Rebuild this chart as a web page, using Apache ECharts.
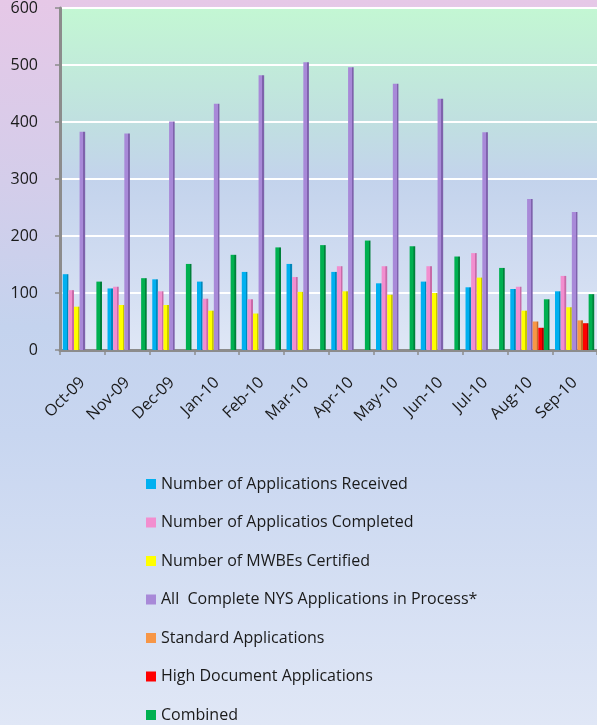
<!DOCTYPE html>
<html><head><meta charset="utf-8">
<script src="https://cdn.jsdelivr.net/npm/echarts@6/dist/echarts.min.js"></script>
<style>html,body{margin:0;padding:0;}#c{width:597px;height:725px;}</style>
</head><body><div id="c"></div>
<script>
var categories = ['Oct-09','Nov-09','Dec-09','Jan-10','Feb-10','Mar-10','Apr-10','May-10','Jun-10','Jul-10','Aug-10','Sep-10'];
var received   = [133, 108, 124, 120, 137, 151, 137, 117, 120, 110, 107, 103];
var completed  = [105, 111, 103, 90, 89, 128, 147, 147, 147, 170, 111, 130];
var certified  = [76, 79, 79, 69, 64, 102, 103, 97, 100, 127, 69, 75];
var inProcess  = [383, 380, 401, 432, 482, 505, 496, 467, 441, 382, 265, 242];
var standard   = [null, null, null, null, null, null, null, null, null, null, 50, 52];
var highDoc    = [null, null, null, null, null, null, null, null, null, null, 39, 47];
var combined   = [120, 126, 151, 167, 180, 184, 192, 182, 164, 144, 89, 98];
var yTicks = [0, 100, 200, 300, 400, 500, 600];

var names = ['Number of Applications Received','Number of Applicatios Completed','Number of MWBEs Certified','All  Complete NYS Applications in Process*','Standard Applications','High Document Applications','Combined'];
var colors = ['#00b0f0','#f28ecf','#ffff00','#a889d8','#f79646','#ff0000','#00b050'];
var darks  = ['#0088bb','#c86aa8','#c8c800','#7e62ac','#c46c2a','#b00000','#00803a'];
var datas = [received, completed, certified, inProcess, standard, highDoc, combined];

function bar(i){
  return {
    name: names[i], type: 'bar', data: datas[i], barWidth: 5.6, barGap: '0%',
    itemStyle: { color: { type: 'linear', x: 0, y: 0, x2: 1, y2: 0, colorStops: [
      {offset: 0, color: colors[i]}, {offset: 0.68, color: colors[i]},
      {offset: 0.7, color: darks[i]}, {offset: 1, color: darks[i]}]}},
    emphasis: { disabled: true }
  };
}
var series = [];
for (var i = 0; i < 7; i++) series.push(bar(i));

var font = '"Open Sans", sans-serif';
var chart = echarts.init(document.getElementById('c'));
chart.setOption({
  animation: false,
  backgroundColor: { type: 'linear', x: 0, y: 0, x2: 0, y2: 1, colorStops: [
    {offset: 0, color: '#e6c8e7'}, {offset: 0.25, color: '#d4cdea'},
    {offset: 0.45, color: '#c4d3ee'}, {offset: 0.6, color: '#c8d6f0'}, {offset: 1, color: '#e0e7f6'}]},
  legend: {
    orient: 'vertical', left: 141, top: 471, height: 300, itemWidth: 10, itemHeight: 10, itemGap: 22.5,
    icon: 'rect', selectedMode: false,
    textStyle: { fontFamily: font, fontSize: 16, color: '#1a1a1a', lineHeight: 16, padding: [0,0,0,0] },
    data: names.map(function(n, i){ return { name: n, itemStyle: { color: colors[i] } }; })
  },
  grid: {
    left: 60, right: 0, top: 8, bottom: 375, show: true, borderWidth: 0,
    backgroundColor: { type: 'linear', x: 0, y: 0, x2: 0, y2: 1, colorStops: [
      {offset: 0, color: '#c3f7d3'}, {offset: 0.33, color: '#c0e0e0'},
      {offset: 0.5, color: '#c3d3ec'}, {offset: 0.8, color: '#d3def2'}, {offset: 1, color: '#dfe7f6'}]}
  },
  xAxis: {
    type: 'category', data: categories,
    axisLine: { lineStyle: { color: '#8c8c8c', width: 3 } },
    axisTick: { show: true, length: 5, lineStyle: { color: '#8c8c8c', width: 1.5 } },
    axisLabel: { rotate: 45, margin: 30, fontFamily: font, fontSize: 16, color: '#1a1a1a', interval: 0 }
  },
  yAxis: {
    type: 'value', min: yTicks[0], max: yTicks[yTicks.length - 1], interval: 100,
    axisLine: { show: true, lineStyle: { color: '#8c8c8c', width: 3 } },
    axisTick: { show: true, length: 5, lineStyle: { color: '#8c8c8c', width: 1.5 } },
    splitLine: { lineStyle: { color: '#ffffff', width: 2 } },
    axisLabel: { margin: 22, padding: [8, 0, 0, 0], fontFamily: font, fontSize: 16, color: '#1a1a1a' }
  },
  series: series
});
</script></body></html>
